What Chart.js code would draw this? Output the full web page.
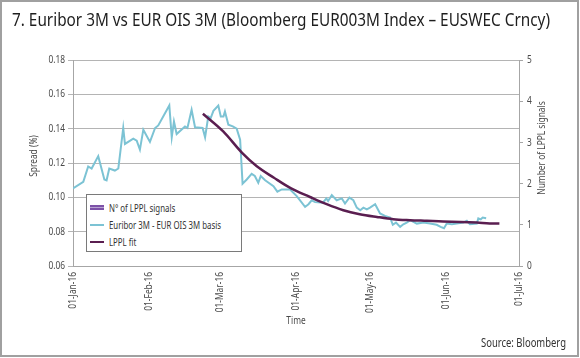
<!DOCTYPE html>
<html>
<head>
<meta charset="utf-8">
<script src="https://cdn.jsdelivr.net/npm/chart.js@4/dist/chart.umd.min.js"></script>
<style>
html,body{margin:0;padding:0;background:#fff;}
body{width:580px;height:358px;position:relative;overflow:hidden;}
#frame{position:absolute;left:0;top:0;width:579px;height:357px;box-sizing:border-box;border:2px solid #a0a0a0;pointer-events:none;}
.cond{font-family:"Noto Sans","Liberation Sans",sans-serif;font-stretch:condensed;}
#title{position:absolute;left:12px;top:7px;font-size:18px;color:#1e1e1e;white-space:nowrap;transform-origin:0 0;}
#source{position:absolute;left:481px;top:334px;font-size:12.5px;color:#333;white-space:nowrap;transform-origin:0 0;}
#chart{position:absolute;left:0;top:0;}
#legend{position:absolute;left:86px;top:194px;width:156px;height:58px;box-sizing:border-box;border:1px solid #7a7a7a;background:#fff;font-size:11px;color:#333;}
.item{position:absolute;left:2px;height:14px;line-height:14px;white-space:nowrap;}
.icon{position:absolute;left:1px;top:6px;width:14px;height:2px;}
.txt{position:absolute;left:20px;top:0;transform-origin:0 50%;}
</style>
</head>
<body>
<canvas id="chart" width="580" height="358"></canvas>
<div id="title" class="cond">7. Euribor 3M vs EUR OIS 3M (Bloomberg EUR003M Index – EUSWEC Crncy)</div>
<div id="legend" class="cond"></div>
<div id="source" class="cond">Source: Bloomberg</div>
<div id="frame"></div>
<script>
// ---- Data (x = days since 01-Jan-16) ----
const tickDays = [0, 31, 60, 91, 121, 152, 182];
const tickLabels = ["01-Jan-16","01-Feb-16","01-Mar-16","01-Apr-16","01-May-16","01-Jun-16","01-Jul-16"];

const basisDays = [0,4.2,6.2,7.6,10.3,12.8,13.7,14.8,17.1,18.5,20.5,21.2,24.6,26,27.3,28.7,31.4,33.5,34.8,39.3,40.3,41.2,42.3,45.7,46.7,48.4,49.8,52.9,53.9,55.2,56.2,57.3,59.3,60.3,61.4,62,63.4,65.2,66.8,68.2,69.2,70.9,72.9,74.2,75.6,76.6,78.4,81.8,83.4,85.2,88.6,91.3,94.7,96.1,97.4,98.8,102,103.4,104.1,105.6,107.6,109.7,111,112.8,114.4,115.8,117.2,118.5,119.9,121.2,123.3,125.3,127.3,129.4,130.5,131.8,133.5,134.8,136.2,137.6,140.3,143,145.7,148.4,150,151.4,152.5,154.6,156.6,159.3,160.7,162,164.8,165.4,166.4,167.2,168.6];
const basisValues = [0.1052,0.109,0.118,0.1168,0.124,0.1104,0.1099,0.1168,0.1156,0.1168,0.1404,0.1311,0.1342,0.133,0.1278,0.1394,0.1323,0.1404,0.1419,0.1535,0.135,0.1442,0.1369,0.1413,0.1404,0.151,0.1408,0.1404,0.135,0.1471,0.1462,0.1504,0.1535,0.1471,0.1471,0.150,0.1423,0.1413,0.140,0.1336,0.1079,0.1104,0.1137,0.1124,0.1085,0.1124,0.1099,0.1065,0.1033,0.1046,0.1046,0.1007,0.0944,0.096,0.0983,0.0972,0.0969,0.0994,0.0979,0.1013,0.0983,0.0994,0.0964,0.0998,0.0983,0.094,0.0925,0.094,0.093,0.094,0.096,0.0906,0.0892,0.0882,0.084,0.0853,0.0828,0.0843,0.0853,0.0867,0.0847,0.0853,0.0847,0.084,0.0828,0.082,0.0847,0.0843,0.0847,0.0853,0.0863,0.0843,0.0847,0.0878,0.0872,0.0882,0.0878];

const fitDays = [53,61.3,69,75,82,89,96.7,103.5,110.3,117,124,130.7,137.5,144.4,151,158,164.8,170,174];
const fitValues = [0.1487,0.1384,0.1259,0.1181,0.1114,0.1052,0.1002,0.096,0.0925,0.0902,0.0886,0.0873,0.0867,0.0863,0.0859,0.0857,0.0853,0.0848,0.0847];

const signalDays = [];
const signalCounts = [];

const seriesLabels = ["N° of LPPL signals", "Euribor 3M - EUR OIS 3M basis", "LPPL fit"];
const seriesColors = ["#7d52a8", "#7cc3d4", "#5a1e50"];

const FONT = '"Noto Sans","Liberation Sans",sans-serif';
const TICKFONT = { family: FONT, size: 11, weight: 'condensed' };

const zip = (xs, ys) => xs.map((x, i) => ({x: x, y: ys[i]}));

// narrow canvas text (the reference uses a condensed face)
const canvas = document.getElementById('chart');
const ctx0 = canvas.getContext('2d');
const SX = 0.76;
const origFill = ctx0.fillText.bind(ctx0);
const origMeasure = ctx0.measureText.bind(ctx0);
ctx0.fillText = function (t, x, y, maxW) {
  this.save();
  this.translate(x, y);
  this.scale(SX, 1);
  if (maxW !== undefined) origFill(t, 0, 0, maxW / SX); else origFill(t, 0, 0);
  this.restore();
};
ctx0.measureText = function (t) {
  const m = origMeasure(t);
  return { width: m.width * SX, actualBoundingBoxAscent: m.actualBoundingBoxAscent, actualBoundingBoxDescent: m.actualBoundingBoxDescent,
           actualBoundingBoxLeft: m.actualBoundingBoxLeft * SX, actualBoundingBoxRight: m.actualBoundingBoxRight * SX };
};

const titlesPlugin = {
  id: 'axisTitles',
  afterDraw(chart) {
    const ctx = chart.ctx;
    const a = chart.chartArea;
    ctx.save();
    ctx.fillStyle = '#4a4a4a';
    ctx.font = 'condensed 11px ' + FONT;
    ctx.textAlign = 'center';
    ctx.textBaseline = 'middle';
    ctx.fillText('Time', (a.left + a.right) / 2, 321);
    ctx.translate(34, 156);
    ctx.rotate(-Math.PI / 2);
    ctx.fillText('Spread (%)', 0, 0);
    ctx.restore();
    ctx.save();
    ctx.fillStyle = '#4a4a4a';
    ctx.font = 'condensed 11px ' + FONT;
    ctx.textAlign = 'center';
    ctx.textBaseline = 'middle';
    ctx.translate(542, 148);
    ctx.rotate(-Math.PI / 2);
    ctx.fillText('Number of LPPL signals', 0, 0);
    ctx.restore();
  }
};

const chart = new Chart(canvas, {
  data: {
    datasets: [
      { type: 'bar', label: seriesLabels[0], data: zip(signalDays, signalCounts), backgroundColor: seriesColors[0], yAxisID: 'y1', order: 3 },
      { type: 'line', label: seriesLabels[1], data: zip(basisDays, basisValues), borderColor: seriesColors[1], borderWidth: 2, pointRadius: 0, tension: 0, yAxisID: 'y', order: 2 },
      { type: 'line', label: seriesLabels[2], data: zip(fitDays, fitValues), borderColor: seriesColors[2], borderWidth: 2.5, pointRadius: 0, cubicInterpolationMode: 'monotone', yAxisID: 'y', order: 1 }
    ]
  },
  options: {
    responsive: false,
    animation: false,
    devicePixelRatio: 1,
    layout: { padding: { left: 0, right: 0, top: 60, bottom: 0 } },
    plugins: { legend: { display: false }, tooltip: { enabled: false }, title: { display: false } },
    scales: {
      x: {
        type: 'linear', min: 0, max: 182, offset: false,
        afterBuildTicks: s => { s.ticks = tickDays.map(v => ({ value: v })); },
        afterFit: s => { s.height = 92; },
        grid: { display: false, drawTicks: false, offset: false },
        border: { display: true, color: '#a6a6a6', width: 1 },
        ticks: { minRotation: 90, maxRotation: 90, padding: 6, autoSkip: false, color: '#4a4a4a', font: TICKFONT,
                 callback: (v, i) => tickLabels[i] }
      },
      y: {
        position: 'left', min: 0.06, max: 0.18,
        afterFit: s => { s.width = 73; },
        grid: { color: '#b4b4b4', lineWidth: 1, tickLength: 5 },
        border: { display: true, color: '#a6a6a6', width: 1 },
        ticks: { stepSize: 0.02, padding: 3, color: '#4a4a4a', font: TICKFONT, callback: v => v.toFixed(2) }
      },
      y1: {
        position: 'right', min: 0, max: 5,
        afterFit: s => { s.width = 61; },
        grid: { drawOnChartArea: false, color: '#a6a6a6', tickLength: 4 },
        border: { display: true, color: '#a6a6a6', width: 1 },
        ticks: { stepSize: 1, padding: 4, color: '#4a4a4a', font: TICKFONT }
      }
    }
  },
  plugins: [titlesPlugin]
});

// HTML legend built from the datasets
const legend = document.getElementById('legend');
chart.data.datasets.forEach((ds, i) => {
  const item = document.createElement('div');
  item.className = 'item';
  item.style.top = (6 + i * 17) + 'px';
  const icon = document.createElement('div');
  icon.className = 'icon';
  if (i === 0) {
    icon.style.top = '4px';
    icon.style.height = '5px';
    icon.style.boxSizing = 'border-box';
    icon.style.borderTop = '2px solid ' + seriesColors[0];
    icon.style.borderBottom = '2px solid ' + seriesColors[0];
    icon.style.background = '#b9a3d3';
  } else {
    icon.style.background = seriesColors[i];
  }
  const txt = document.createElement('div');
  txt.className = 'txt';
  txt.textContent = ds.label;
  item.appendChild(icon);
  item.appendChild(txt);
  legend.appendChild(item);
});

// fit text widths to the reference
function fitWidth(el, target) {
  const w = el.getBoundingClientRect().width;
  if (w > 0) el.style.transform = 'scaleX(' + (target / w) + ')';
}
fitWidth(document.getElementById('title'), 538);
fitWidth(document.getElementById('source'), 85);
const txts = legend.querySelectorAll('.txt');
fitWidth(txts[1], 112);
const k = txts[1].style.transform;
txts[0].style.transform = k;
txts[2].style.transform = k;
</script>
</body>
</html>
